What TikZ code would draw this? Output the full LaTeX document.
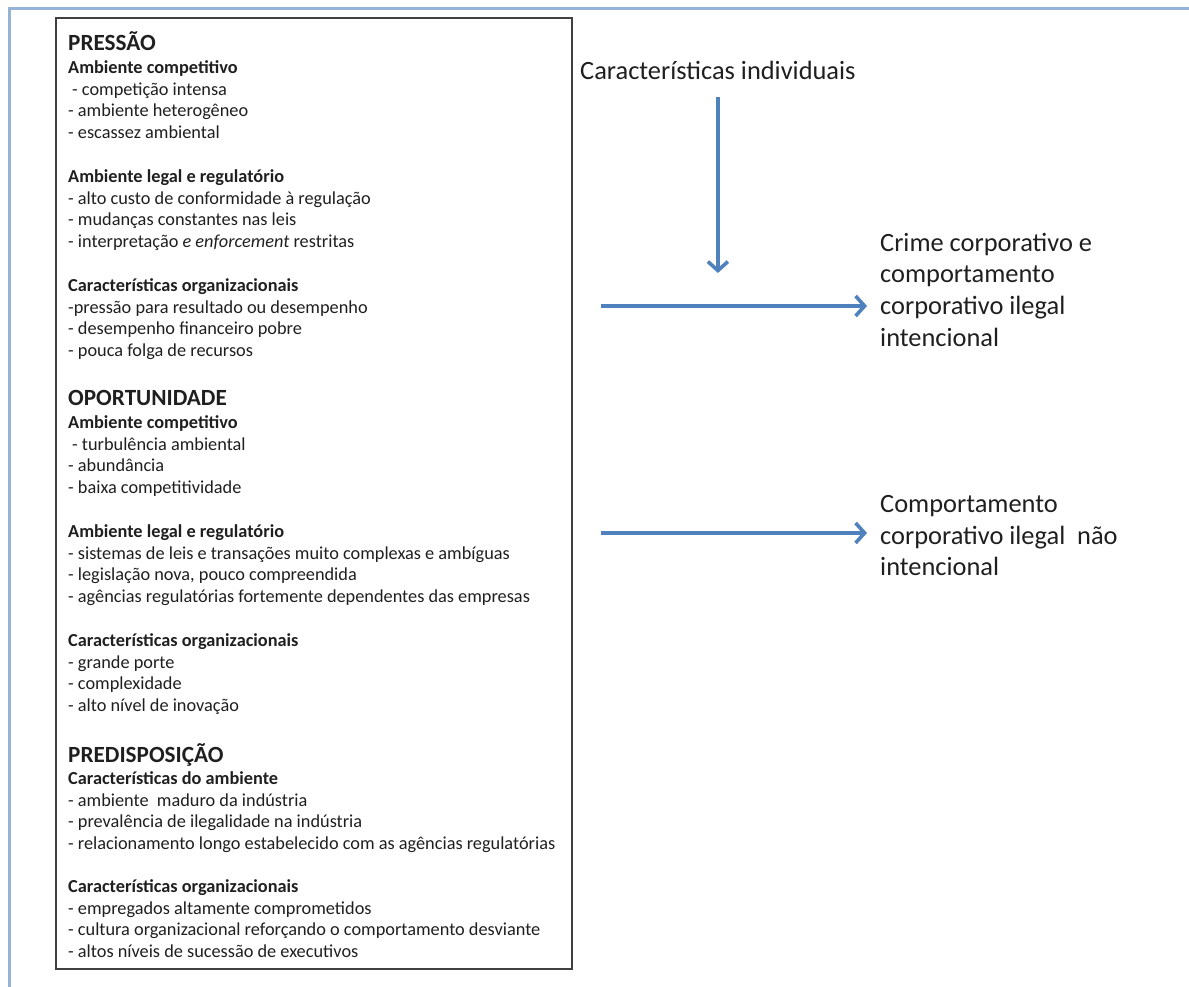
\documentclass[tikz,border=0pt]{standalone}
\usepackage{fontspec}
\setmainfont{Carlito}
\usetikzlibrary{arrows.meta,positioning}

\definecolor{flowblue}{HTML}{4F81BD}
\definecolor{frameblue}{HTML}{95B3D7}

\begin{document}
\begin{tikzpicture}[x=1pt,y=-1pt,text=black!88,
    heading/.style={anchor=base west,inner sep=0pt,font=\fontsize{23.2}{27}\selectfont\bfseries},
    group/.style={anchor=north west,inner sep=0pt,align=left,font=\fontsize{18.3}{21.5}\selectfont},
    outcome/.style={anchor=north west,inner sep=0pt,align=left,font=\fontsize{26.4}{31.7}\selectfont},
    flow/.style={draw=flowblue,line width=3.6pt,-{Straight Barb[length=9pt,width=20pt]}}]
    \useasboundingbox (0,0) rectangle (1189,987);

    % frame and box
    \draw[frameblue,line width=3pt] (9,987) -- (9,9) -- (1189,9);
    \draw[black!75,line width=1.6pt] (56,18) rectangle (572,969);

    % pressao
    \node[heading] (pres) at (68,50.4) {PRESSÃO};
    \node[group] (pres1) at (68,58.5) {\strut\textbf{Ambiente competitivo}\\
        \hspace*{4pt}- competição intensa\\
        - ambiente heterogêneo\\
        - escassez ambiental};
    \node[group] (pres2) at (68,167.5) {\strut\textbf{Ambiente legal e regulatório}\\
        - alto custo de conformidade à regulação\\
        - mudanças constantes nas leis\\
        - interpretação \textit{e enforcement} restritas};
    \node[group] (pres3) at (68,276.5) {\strut\textbf{Características organizacionais}\\
        -pressão para resultado ou desempenho\\
        - desempenho financeiro pobre\\
        - pouca folga de recursos};

    % oportunidade
    \node[heading] (opor) at (68,405.4) {OPORTUNIDADE};
    \node[group] (opor1) at (68,413.5) {\strut\textbf{Ambiente competitivo}\\
        \hspace*{4pt}- turbulência ambiental\\
        - abundância\\
        - baixa competitividade};
    \node[group] (opor2) at (68,522.5) {\strut\textbf{Ambiente legal e regulatório}\\
        - sistemas de leis e transações muito complexas e ambíguas\\
        - legislação nova, pouco compreendida\\
        - agências regulatórias fortemente dependentes das empresas};
    \node[group] (opor3) at (68,631.5) {\strut\textbf{Características organizacionais}\\
        - grande porte\\
        - complexidade\\
        - alto nível de inovação};

    % predisposicao
    \node[heading] (pred) at (68,762.4) {PREDISPOSIÇÃO};
    \node[group] (pred1) at (68,769.5) {\strut\textbf{Características do ambiente}\\
        - ambiente\ \ maduro da indústria\\
        - prevalência de ilegalidade na indústria\\
        - relacionamento longo estabelecido com as agências regulatórias};
    \node[group] (pred2) at (68,877.5) {\strut\textbf{Características organizacionais}\\
        - empregados altamente comprometidos\\
        - cultura organizacional reforçando o comportamento desviante\\
        - altos níveis de sucessão de executivos};

    % right side
    \node[anchor=base west,inner sep=0pt,font=\fontsize{26.4}{31.7}\selectfont] (indiv) at (580,80) {Características individuais};
    \node[outcome] (crime) at (880,228.8) {\strut Crime corporativo e\\comportamento\\corporativo ilegal\\intencional};
    \node[outcome] (naoint) at (880,490) {\strut Comportamento\\corporativo ilegal\ \ não\\intencional};

    \coordinate (meet) at (indiv.south |- 0,273);
    \coordinate (in1) at (601,306);
    \coordinate (in2) at (601,533);

    \draw[flow,shorten <=17pt] (indiv.south) -- (meet);
    \draw[flow,shorten >=13pt] (in1) -- (in1 -| crime.west);
    \draw[flow,shorten >=13pt] (in2) -- (in2 -| naoint.west);
\end{tikzpicture}
\end{document}
